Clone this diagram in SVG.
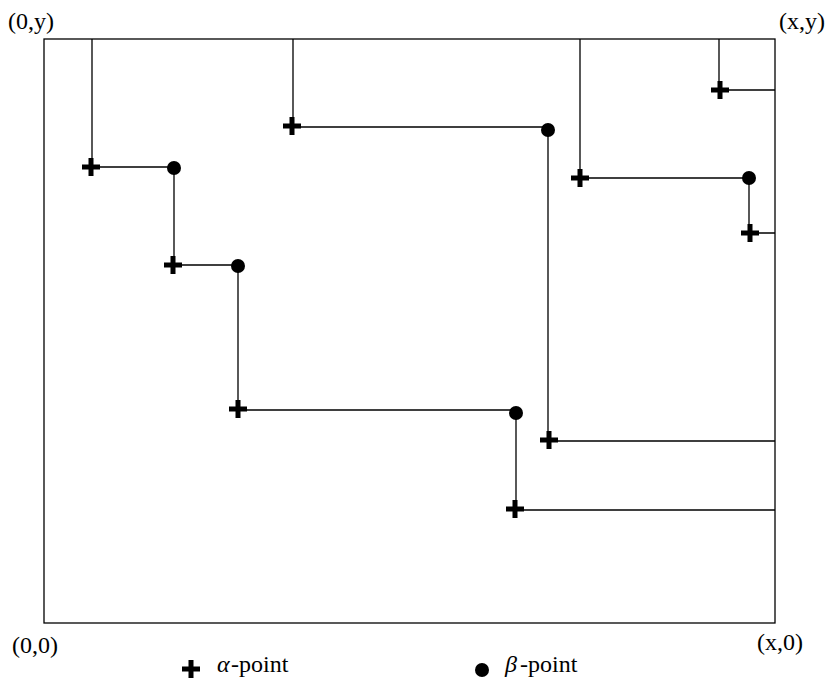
<svg xmlns="http://www.w3.org/2000/svg" width="827" height="684" viewBox="0 0 827 684">
<style>
.ln{stroke:#000;stroke-width:1.3;fill:none}
.t{font-family:"Liberation Serif","Times New Roman",serif;font-size:24px;fill:#000}
.gr{font-family:"Liberation Serif","DejaVu Serif",serif;font-size:24px;font-style:italic;fill:#000}
</style>
<defs>
<g id="plus"><rect x="-9" y="-2.5" width="18" height="5" fill="#000"/><rect x="-2.5" y="-9" width="5" height="18" fill="#000"/></g>
<circle id="dot" r="7" fill="#000"/>
</defs>
<rect x="0" y="0" width="827" height="684" fill="#fff"/>
<g id="connectors" class="ln">
<rect x="44" y="39" width="731" height="584"/>
<polyline points="92,39 92,167 174,167 174,265 238,265 238,410 516,410 516,510 775,510"/>
<polyline points="293,39 293,127 548,127 548,441 775,441"/>
<polyline points="580,39 580,178 749,178 749,233 775,233"/>
<polyline points="719,39 719,90 775,90"/>
</g>
<g id="alpha-points">
<use href="#plus" x="91" y="167"/>
<use href="#plus" x="173" y="265"/>
<use href="#plus" x="238" y="409"/>
<use href="#plus" x="292" y="126"/>
<use href="#plus" x="515" y="509"/>
<use href="#plus" x="549" y="440"/>
<use href="#plus" x="580" y="178"/>
<use href="#plus" x="720" y="90"/>
<use href="#plus" x="750" y="233"/>
</g>
<g id="beta-points">
<use href="#dot" x="174" y="168"/>
<use href="#dot" x="238" y="266"/>
<use href="#dot" x="548" y="130"/>
<use href="#dot" x="516" y="413"/>
<use href="#dot" x="749" y="178"/>
</g>
<g id="labels">
<text class="t" x="8" y="29">(0,y)</text>
<text class="t" x="779" y="29">(x,y)</text>
<text class="t" x="12" y="653">(0,0)</text>
<text class="t" x="757" y="650">(x,0)</text>
</g>
<g id="legend">
<use href="#plus" x="191" y="669"/>
<text class="gr" x="217" y="672">α</text>
<text class="t" x="231" y="672">-point</text>
<use href="#dot" x="482" y="670"/>
<text class="gr" x="505" y="672">β</text>
<text class="t" x="520" y="672">-point</text>
</g>
</svg>
